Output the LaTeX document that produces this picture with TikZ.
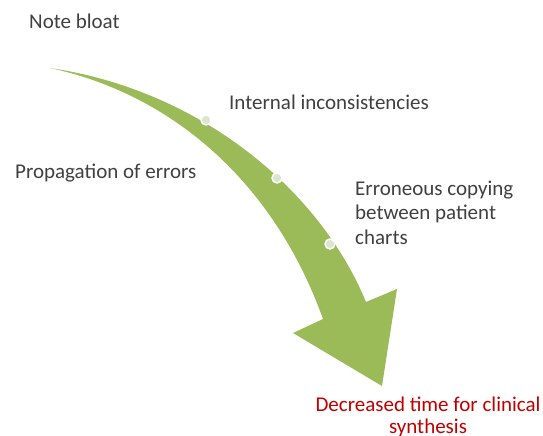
\documentclass[tikz,border=0pt]{standalone}
\usepackage{fontspec}
\setmainfont{Carlito}
\usetikzlibrary{positioning,calc}
\definecolor{agreen}{RGB}{155,187,89}
\definecolor{dotfill}{RGB}{220,229,208}
\definecolor{ltext}{RGB}{64,64,64}
\definecolor{rtext}{RGB}{192,0,0}
\newcommand{\fs}{21}
\newcommand{\mtext}[3]{
  \node [lbl] at #1 (#2) {#3};
}
\newcommand{\mdot}[2]{
  \node [mark dot] at #1 (#2) {};
}

\begin{document}
\begin{tikzpicture}[x=1pt,y=-1pt,
  lbl/.style={anchor=west,inner sep=0pt,text=ltext,align=left,
    font=\fontsize{\fs}{24.5}\selectfont},
  mark dot/.style={circle,fill=dotfill,draw=white,line width=1.4pt,minimum size=10pt,inner sep=0pt}]
  \useasboundingbox (0,0) rectangle (543,436);

  % curved arrow
  \fill [agreen] (50,68) .. controls (200,90) and (320,190) .. (366,302)
    -- (397,289) -- (382,386) -- (293,333) -- (323,319)
    .. controls (275,185) and (175,95) .. (50,68) -- cycle;

  \mdot{(206,120)}{p}
  \mdot{(277,178)}{q}
  \mdot{(330,244)}{r}

  \mtext{(29,21)}{a}{Note bloat}
  \mtext{(229,102)}{b}{Internal inconsistencies}
  \mtext{(15,173)}{c}{Propagation of errors}
  \mtext{(355,212.5)}{d}{Erroneous copying\\between patient\\charts}

  \node [inner sep=0pt,text=rtext,align=center,anchor=north,
    font=\fontsize{\fs}{22}\selectfont] at (428,397) (e)
    {Decreased time for clinical\\synthesis};
\end{tikzpicture}
\end{document}
